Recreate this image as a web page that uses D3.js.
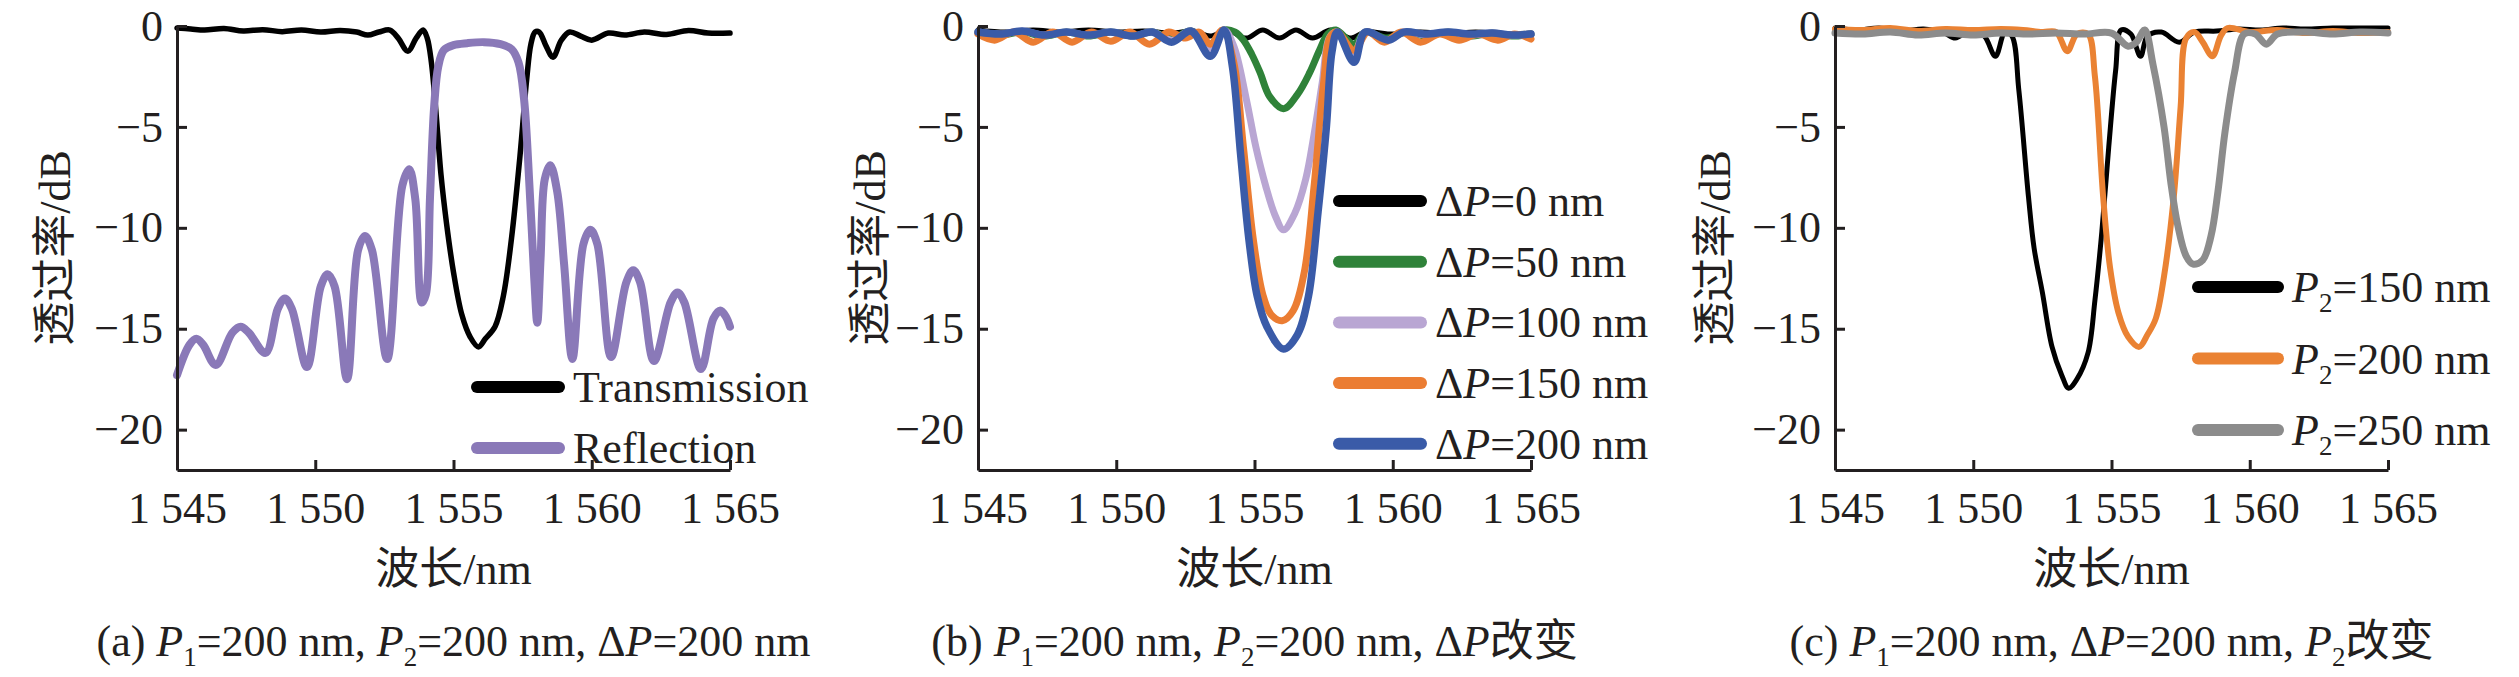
<!DOCTYPE html>
<html>
<head>
<meta charset="utf-8">
<script src="https://cdn.jsdelivr.net/npm/d3@7"></script>
<style>
  body { margin: 0; background: #fff; }
  svg { display: block; }
</style>
</head>
<body>
<div class="chart"></div>
<script>
// wavelength (nm) / transmission (dB) pairs
const xTicks = [1545, 1550, 1555, 1560, 1565];
const yTicks = [0, -5, -10, -15, -20];

// (a) P1=200, P2=200, dP=200
const aTrans = [
  [1545, -0.1], [1545.5, -0.15], [1546, -0.2], [1546.7, -0.12], [1547.4, -0.25], [1548.1, -0.18],
  [1548.8, -0.28], [1549.5, -0.2], [1550.2, -0.3], [1550.9, -0.22], [1551.5, -0.3], [1551.9, -0.45],
  [1552.3, -0.3], [1552.7, -0.2], [1553.0, -0.6], [1553.35, -1.25], [1553.65, -0.6], [1553.9, -0.2],
  [1554.05, -0.6], [1554.2, -1.8], [1554.35, -4], [1554.55, -7.4], [1554.75, -9.8], [1555.0, -12.2],
  [1555.3, -14.3], [1555.6, -15.4], [1555.9, -15.9], [1556.15, -15.5], [1556.5, -14.9], [1556.8, -13.4],
  [1557.1, -10.5], [1557.4, -6.5], [1557.65, -2.6], [1557.8, -0.9], [1557.95, -0.3], [1558.1, -0.3],
  [1558.35, -1.0], [1558.6, -1.55], [1558.9, -0.7], [1559.2, -0.3], [1559.6, -0.5], [1560.0, -0.7],
  [1560.6, -0.35], [1561.2, -0.45], [1561.9, -0.3], [1562.7, -0.42], [1563.5, -0.22], [1564.2, -0.35],
  [1565, -0.35]
];
const aRefl = [
  [1545, -17.3], [1545.45, -15.8], [1545.7, -15.5], [1545.95, -15.8], [1546.4, -16.8],
  [1547.0, -15.2], [1547.3, -14.9], [1547.6, -15.2], [1548.2, -16.2],
  [1548.65, -14.0], [1548.9, -13.5], [1549.15, -14.0], [1549.7, -16.9],
  [1550.2, -12.9], [1550.45, -12.3], [1550.7, -12.9], [1551.15, -17.5],
  [1551.55, -11.1], [1551.8, -10.4], [1552.05, -11.1], [1552.6, -16.5],
  [1553.15, -7.9], [1553.4, -7.1], [1553.62, -8.6], [1553.85, -13.7], [1554.0, -13.3],
  [1554.15, -8.5], [1554.3, -4], [1554.45, -2.0], [1554.65, -1.2], [1555.0, -0.95], [1555.5, -0.85],
  [1556.1, -0.8], [1556.7, -0.9], [1557.1, -1.15], [1557.35, -1.8], [1557.55, -3.6], [1557.75, -8],
  [1557.92, -12.5], [1558.03, -14.7], [1558.15, -11.5], [1558.3, -7.6], [1558.5, -6.9], [1558.75, -8.2],
  [1559.0, -11.8], [1559.3, -16.5],
  [1559.7, -10.8], [1559.95, -10.1], [1560.2, -10.8], [1560.7, -16.4],
  [1561.25, -12.7], [1561.5, -12.1], [1561.75, -12.7], [1562.25, -16.6],
  [1562.85, -13.7], [1563.1, -13.2], [1563.35, -13.7], [1563.95, -17.0],
  [1564.4, -14.5], [1564.65, -14.1], [1564.85, -14.4], [1565, -14.9]
];

// (b) dP varies
const bDp0 = [
  [1545, -0.2], [1546, -0.3], [1547, -0.2], [1548, -0.3], [1549, -0.2], [1550, -0.3], [1551, -0.25],
  [1552, -0.35], [1552.8, -0.25], [1553.4, -0.5], [1554.0, -0.2], [1554.7, -0.6], [1555.3, -0.2],
  [1555.9, -0.6], [1556.5, -0.2], [1557.1, -0.6], [1557.75, -0.2], [1558.5, -0.6], [1559.0, -0.3],
  [1560, -0.4], [1561, -0.3], [1562, -0.4], [1563, -0.3], [1564, -0.4], [1565, -0.35]
];
const bDp50 = [
  [1545, -0.3], [1545.8, -0.45], [1546.6, -0.3], [1547.4, -0.5], [1548.2, -0.3], [1549, -0.5],
  [1549.8, -0.3], [1550.6, -0.5], [1551.3, -0.3], [1552.0, -0.6], [1552.7, -0.25], [1553.4, -0.9],
  [1553.9, -0.2], [1554.3, -0.3], [1554.6, -0.7], [1554.9, -1.4], [1555.2, -2.3], [1555.55, -3.5],
  [1556.05, -4.1], [1556.55, -3.4], [1557.0, -2.3], [1557.35, -1.2], [1557.65, -0.4], [1557.95, -0.2],
  [1558.6, -0.9], [1559.0, -0.3], [1559.8, -0.6], [1560.5, -0.3], [1561.2, -0.5], [1562, -0.3],
  [1562.8, -0.5], [1563.6, -0.35], [1564.3, -0.5], [1565, -0.4]
];
const bDp100 = [
  [1545, -0.3], [1545.8, -0.4], [1546.6, -0.25], [1547.4, -0.45], [1548.2, -0.3], [1549, -0.45],
  [1549.8, -0.3], [1550.6, -0.5], [1551.3, -0.3], [1552.0, -0.7], [1552.7, -0.25], [1553.4, -1.1],
  [1553.9, -0.2], [1554.25, -1.0], [1554.7, -3.6], [1555.05, -6.0], [1555.4, -7.9], [1555.75, -9.4],
  [1556.05, -10.1], [1556.45, -9.3], [1556.85, -7.6], [1557.15, -5.4], [1557.45, -2.8], [1557.7, -0.6],
  [1557.95, -0.3], [1558.6, -1.3], [1559.0, -0.3], [1559.8, -0.7], [1560.4, -0.3], [1561.2, -0.45],
  [1562, -0.3], [1562.8, -0.45], [1563.6, -0.35], [1564.3, -0.45], [1565, -0.4]
];
const bDp150 = [
  [1545, -0.4], [1545.6, -0.7], [1546.3, -0.3], [1547, -0.8], [1547.7, -0.3], [1548.4, -0.8],
  [1549.1, -0.3], [1549.8, -0.75], [1550.5, -0.3], [1551.2, -0.9], [1551.9, -0.3], [1552.5, -0.6],
  [1553.0, -0.3], [1553.4, -0.9], [1553.85, -0.2], [1554.25, -1.8], [1554.6, -6.0], [1554.95, -10.5],
  [1555.3, -13.3], [1555.6, -14.3], [1556.0, -14.6], [1556.4, -14.1], [1556.8, -12.2], [1557.15, -8.0],
  [1557.5, -2.8], [1557.75, -0.5], [1558.0, -0.3], [1558.6, -1.2], [1559.1, -0.3], [1559.7, -0.8],
  [1560.3, -0.3], [1561.0, -0.8], [1561.7, -0.4], [1562.4, -0.7], [1563.1, -0.4], [1563.8, -0.7],
  [1564.4, -0.4], [1565, -0.65]
];
const bDp200 = [
  [1545, -0.3], [1545.8, -0.4], [1546.6, -0.25], [1547.4, -0.45], [1548.2, -0.3], [1549, -0.45],
  [1549.8, -0.3], [1550.6, -0.5], [1551.3, -0.3], [1552.0, -0.8], [1552.7, -0.25], [1553.4, -1.5],
  [1553.9, -0.2], [1554.2, -2.0], [1554.5, -6.4], [1554.8, -10.6], [1555.1, -13.4], [1555.45, -14.9],
  [1556.05, -16.0], [1556.55, -15.3], [1556.95, -13.4], [1557.3, -9.2], [1557.6, -5.0], [1557.8, -1.3],
  [1558.0, -0.3], [1558.6, -1.8], [1559.0, -0.3], [1559.85, -0.7], [1560.4, -0.3], [1561.2, -0.4],
  [1562, -0.3], [1562.8, -0.4], [1563.6, -0.35], [1564.3, -0.45], [1565, -0.4]
];

// (c) P2 varies
const cP150 = [
  [1545, -0.1], [1545.8, -0.2], [1546.6, -0.1], [1547.4, -0.25], [1548.2, -0.15], [1548.9, -0.3],
  [1549.35, -0.6], [1549.9, -0.2], [1550.4, -0.5], [1550.8, -1.5], [1551.15, -0.3], [1551.4, -0.5],
  [1551.65, -3.2], [1552.0, -8.5], [1552.2, -11.0], [1552.5, -13.2], [1552.85, -15.9], [1553.2, -17.3],
  [1553.45, -17.95], [1553.75, -17.5], [1554.15, -16.2], [1554.4, -13.6], [1554.65, -10.2], [1554.9, -6.0],
  [1555.15, -2.2], [1555.35, -0.2], [1555.7, -0.4], [1556.05, -1.5], [1556.3, -0.5], [1556.8, -0.3],
  [1557.45, -0.8], [1558.0, -0.3], [1558.8, -0.25], [1559.6, -0.15], [1560.4, -0.2], [1561.2, -0.1],
  [1562, -0.15], [1563, -0.1], [1564, -0.1], [1565, -0.1]
];
const cP200 = [
  [1545, -0.15], [1546, -0.2], [1547, -0.1], [1548, -0.25], [1549, -0.15], [1550, -0.2], [1551, -0.15],
  [1551.8, -0.2], [1552.5, -0.3], [1553.0, -0.3], [1553.4, -1.25], [1553.75, -0.4], [1554.15, -0.4],
  [1554.4, -2.5], [1554.7, -8.5], [1554.95, -12.0], [1555.25, -14.2], [1555.6, -15.4], [1556.0, -15.9],
  [1556.3, -15.3], [1556.6, -14.5], [1556.9, -12.4], [1557.25, -8.5], [1557.5, -4.0], [1557.7, -0.6],
  [1558.0, -0.3], [1558.3, -0.8], [1558.65, -1.5], [1558.95, -0.5], [1559.2, -0.1], [1560, -0.3],
  [1561, -0.2], [1562, -0.35], [1563, -0.25], [1564, -0.35], [1565, -0.3]
];
const cP250 = [
  [1545, -0.35], [1546, -0.4], [1547, -0.3], [1548, -0.45], [1549, -0.35], [1550, -0.45], [1551, -0.35],
  [1552, -0.4], [1553, -0.35], [1554, -0.4], [1555, -0.35], [1555.6, -1.0], [1555.9, -0.8],
  [1556.2, -0.2], [1556.5, -1.9], [1556.9, -5.0], [1557.15, -7.8], [1557.4, -9.9], [1557.7, -11.4],
  [1557.95, -11.8], [1558.3, -11.6], [1558.6, -10.4], [1558.85, -8.2], [1559.1, -5.3], [1559.45, -2.3],
  [1559.8, -0.4], [1560.2, -0.4], [1560.6, -0.9], [1561.0, -0.4], [1562, -0.3], [1563, -0.4],
  [1564, -0.3], [1565, -0.35]
];

// text pieces: [text, style]  style: 'i' italic, 'sub' subscript
const captionA = [['(a) '], ['P', 'i'], ['1', 'sub'], ['=200 nm, '], ['P', 'i'], ['2', 'sub'], ['=200 nm, Δ'], ['P', 'i'], ['=200 nm']];
const captionB = [['(b) '], ['P', 'i'], ['1', 'sub'], ['=200 nm, '], ['P', 'i'], ['2', 'sub'], ['=200 nm, Δ'], ['P', 'i'], ['改变']];
const captionC = [['(c) '], ['P', 'i'], ['1', 'sub'], ['=200 nm, Δ'], ['P', 'i'], ['=200 nm, '], ['P', 'i'], ['2', 'sub'], ['改变']];

const W = 2519, H = 677;
const fontFam = '"Liberation Serif", "Times New Roman", "Noto Sans CJK SC", serif';
const fs = 44;

const svg = d3.select('.chart').append('svg')
  .attr('width', W)
  .attr('height', H)
  .style('background', '#fff');

// write rich text pieces into a text element
function richText(sel, parts) {
  let shifted = false;
  parts.forEach((p) => {
    const t = sel.append('tspan').text(p[0]);
    if (p[1] === 'i') t.attr('font-style', 'italic');
    if (p[1] === 'sub') {
      t.attr('font-size', 27).attr('dy', 10);
      shifted = true;
    } else if (shifted) {
      t.attr('dy', -10);
      shifted = false;
    }
  });
}

function createPanel(cfg) {
  const x = d3.scaleLinear().domain([1545, 1565]).range([cfg.left, cfg.left + 553]);
  const y = d3.scaleLinear().domain([-22, 0]).range([470, 26]);

  const g = svg.append('g');

  // lines first, axes on top
  const line = d3.line()
    .x((d) => x(d[0]))
    .y((d) => y(d[1]))
    .curve(d3.curveCatmullRom.alpha(0.5));

  cfg.series.forEach((s) => {
    g.append('path')
      .datum(s.data)
      .attr('d', line)
      .attr('fill', 'none')
      .attr('stroke', s.color)
      .attr('stroke-width', s.width)
      .attr('stroke-linejoin', 'round')
      .attr('stroke-linecap', 'round');
  });

  const xAxis = d3.axisBottom(x)
    .tickValues(xTicks)
    .tickSizeInner(-10)
    .tickSizeOuter(0)
    .tickPadding(22)
    .tickFormat((d) => {
      const s = String(d);
      return s[0] + ' ' + s.slice(1);
    });

  const yAxis = d3.axisLeft(y)
    .tickValues(yTicks)
    .tickSizeInner(-10)
    .tickSizeOuter(0)
    .tickPadding(14)
    .tickFormat(d3.format('d'));

  [[xAxis, 'translate(0,470)'], [yAxis, 'translate(' + cfg.left + ',0)']].forEach((a) => {
    const ax = g.append('g')
      .attr('transform', a[1])
      .call(a[0]);
    ax.attr('font-family', fontFam).attr('font-size', fs);
    ax.selectAll('path, line').attr('stroke', '#231f20').attr('stroke-width', 3);
    ax.selectAll('text').attr('fill', '#231f20');
  });

  // axis titles
  g.append('text')
    .attr('x', (cfg.left + cfg.left + 553) / 2)
    .attr('y', 584)
    .attr('text-anchor', 'middle')
    .attr('font-family', fontFam)
    .attr('font-size', fs)
    .attr('fill', '#231f20')
    .text('波长/nm');

  g.append('text')
    .attr('transform', 'translate(' + (cfg.left + cfg.titleOff) + ',248) rotate(-90)')
    .attr('text-anchor', 'middle')
    .attr('dy', '0.35em')
    .attr('font-family', fontFam)
    .attr('font-size', fs)
    .attr('fill', '#231f20')
    .text('透过率/dB');

  // legend
  cfg.series.forEach((s, i) => {
    const ly = cfg.legend.y + i * cfg.legend.dy;
    g.append('line')
      .attr('x1', cfg.legend.x + 6)
      .attr('x2', cfg.legend.x + cfg.legend.len - 6)
      .attr('y1', ly)
      .attr('y2', ly)
      .attr('stroke', s.color)
      .attr('stroke-width', 12)
      .attr('stroke-linecap', 'round');
    const t = g.append('text')
      .attr('x', cfg.legend.x + cfg.legend.len + 8)
      .attr('y', ly + 15)
      .attr('font-family', fontFam)
      .attr('font-size', fs)
      .attr('fill', '#231f20');
    richText(t, s.label);
  });

  // caption
  const cap = g.append('text')
    .attr('x', (cfg.left + cfg.left + 553) / 2)
    .attr('y', 656)
    .attr('text-anchor', 'middle')
    .attr('font-family', fontFam)
    .attr('font-size', fs)
    .attr('fill', '#231f20');
  richText(cap, cfg.caption);
}

createPanel({
  left: 177,
  titleOff: -122,
  series: [
    { data: aTrans, color: '#000000', width: 5.5, label: [['Transmission']] },
    { data: aRefl, color: '#8a79b8', width: 8, label: [['Reflection']] },
  ],
  legend: { x: 471, y: 387, dy: 61, len: 94 },
  caption: captionA,
});

createPanel({
  left: 978,
  titleOff: -108,
  series: [
    { data: bDp0, color: '#000000', width: 5, label: [['Δ'], ['P', 'i'], ['=0 nm']] },
    { data: bDp50, color: '#2f8239', width: 7, label: [['Δ'], ['P', 'i'], ['=50 nm']] },
    { data: bDp100, color: '#b9a6d3', width: 7, label: [['Δ'], ['P', 'i'], ['=100 nm']] },
    { data: bDp150, color: '#eb7d33', width: 7, label: [['Δ'], ['P', 'i'], ['=150 nm']] },
    { data: bDp200, color: '#3a5ba8', width: 7.5, label: [['Δ'], ['P', 'i'], ['=200 nm']] },
  ],
  legend: { x: 1333, y: 201, dy: 60.7, len: 94 },
  caption: captionB,
});

createPanel({
  left: 1835,
  titleOff: -120,
  series: [
    { data: cP150, color: '#000000', width: 5, label: [['P', 'i'], ['2', 'sub'], ['=150 nm']] },
    { data: cP200, color: '#ea8233', width: 6, label: [['P', 'i'], ['2', 'sub'], ['=200 nm']] },
    { data: cP250, color: '#8c8c8c', width: 7, label: [['P', 'i'], ['2', 'sub'], ['=250 nm']] },
  ],
  legend: { x: 2192, y: 287, dy: 71.5, len: 92 },
  caption: captionC,
});
</script>
</body>
</html>
